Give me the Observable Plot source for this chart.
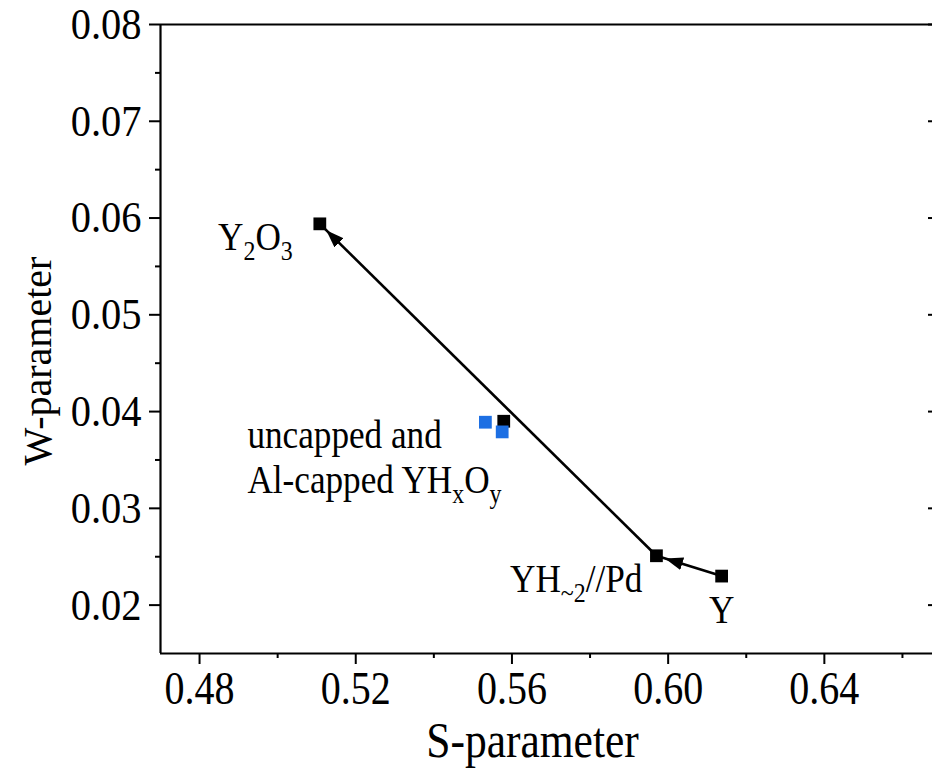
<!DOCTYPE html>
<html><head><meta charset="utf-8">
<script src="https://cdn.jsdelivr.net/npm/d3@7"></script>
<script src="https://cdn.jsdelivr.net/npm/@observablehq/plot@0.6"></script>
<style>body{margin:0;background:#fff;} svg{overflow:hidden;display:block}</style>
</head><body><div id="chart"></div>
<script>
// Black points: Y, YH~2//Pd, intermediate, Y2O3
const sParam = [0.6137, 0.5970, 0.5579, 0.5108];
const wParam = [0.0230, 0.0251, 0.0390, 0.0594];
// Blue points: uncapped and Al-capped YHxOy
const blueS = [0.5532, 0.5575];
const blueW = [0.0389, 0.0379];
// Arrows (indices into black points)
const arrowFrom = [0, 1];
const arrowTo = [1, 3];
// Ticks
const xMajorTicks = [0.48, 0.52, 0.56, 0.60, 0.64];
const xMinorTicks = [0.50, 0.54, 0.58, 0.62, 0.66];
const yMajorTicks = [0.02, 0.03, 0.04, 0.05, 0.06, 0.07, 0.08];
const yMinorTicks = [0.025, 0.035, 0.045, 0.055, 0.065, 0.075];
// Texts
const xTitle = "S-parameter";
const yTitle = "W-parameter";
const labelY = "Y";
const labelYH2 = "YH{~2}//Pd";
const labelY2O3 = "Y{2}O{3}";
const labelYHxOy = "uncapped and\nAl-capped YH{x}O{y}";

const FONT = "'Liberation Serif', 'Times New Roman', serif";
const blue = "#1d6fe3";
const idxBlack = sParam.map((_, i) => i);
const idxBlue = blueS.map((_, i) => i);
const idxArrow = arrowFrom.map((_, i) => i);

const plot = Plot.plot({
  width: 932,
  height: 768,
  marginLeft: 160,
  marginRight: 0,
  marginTop: 24,
  marginBottom: 115,
  style: {fontFamily: FONT, color: "#000", background: "#fff"},
  x: {domain: [0.47, 0.67], range: [160, 941]},
  y: {domain: [0.015, 0.08]},
  marks: [
    Plot.axisX({ticks: xMajorTicks, tickSize: 11, tickPadding: 7, tickFormat: d3.format(".2f"), fontSize: 46, strokeWidth: 2, label: null, className: "xticklab"}),
    Plot.axisX({ticks: xMinorTicks, tickSize: 5, tickFormat: () => "", strokeWidth: 2, label: null}),
    Plot.axisY({ticks: yMajorTicks, tickSize: 11, tickPadding: 8, tickFormat: d3.format(".2f"), fontSize: 45, strokeWidth: 2, label: null, className: "yticklab"}),
    Plot.axisY({ticks: yMinorTicks, tickSize: 5, tickFormat: () => "", strokeWidth: 2, label: null}),
    Plot.axisY({anchor: "right", ticks: yMajorTicks, tickSize: -5, tickFormat: () => "", strokeWidth: 2, label: null}),
    Plot.ruleX([0.47], {strokeWidth: 2.2}),
    Plot.ruleY([0.015, 0.08], {strokeWidth: 2.2}),
    Plot.text([xTitle], {frameAnchor: "bottom", textAnchor: "middle", lineAnchor: "bottom", dx: -14, dy: 103, fontSize: 50, text: d => d, className: "xtitle"}),
    Plot.text([yTitle], {frameAnchor: "left", textAnchor: "middle", dx: -122, dy: 22, rotate: -90, fontSize: 40, text: d => d}),
    Plot.dot(idxBlack, {x: i => sParam[i], y: i => wParam[i], symbol: "square", r: 7.2, fill: "#000"}),
    Plot.dot(idxBlue, {x: i => blueS[i], y: i => blueW[i], symbol: "square", r: 7.2, fill: blue}),
    Plot.link(idxArrow, {
      x1: i => sParam[arrowFrom[i]], y1: i => wParam[arrowFrom[i]],
      x2: i => sParam[arrowTo[i]], y2: i => wParam[arrowTo[i]],
      stroke: "#000", strokeWidth: 2.6, className: "arrowlinks"
    }),
    Plot.text([0], {x: i => sParam[i], y: i => wParam[i], text: () => labelY, dy: 34, fontSize: 40, className: "sublabel"}),
    Plot.text([1], {x: i => sParam[i], y: i => wParam[i], text: () => labelYH2, textAnchor: "end", dx: -14, dy: 23, fontSize: 40, className: "sublabel"}),
    Plot.text([3], {x: i => sParam[i], y: i => wParam[i], text: () => labelY2O3, textAnchor: "end", dx: -27, dy: 13, fontSize: 40, className: "sublabel y2o3"}),
    Plot.text([0], {x: i => blueS[i], y: i => blueW[i], text: () => labelYHxOy, textAnchor: "start", dx: -238, dy: 34, lineHeight: 1.13, fontSize: 40, className: "sublabel"})
  ]
});

const ns = "http://www.w3.org/2000/svg";
// Filled arrowheads
const defs = document.createElementNS(ns, "defs");
const marker = document.createElementNS(ns, "marker");
marker.setAttribute("id", "ahead");
marker.setAttribute("viewBox", "0 0 27 13");
marker.setAttribute("refX", "27");
marker.setAttribute("refY", "6.5");
marker.setAttribute("markerWidth", "27");
marker.setAttribute("markerHeight", "13");
marker.setAttribute("markerUnits", "userSpaceOnUse");
marker.setAttribute("orient", "auto");
const mp = document.createElementNS(ns, "path");
mp.setAttribute("d", "M0,0 L18,6.5 L0,13 Z");
mp.setAttribute("fill", "#000");
marker.appendChild(mp);
defs.appendChild(marker);
plot.insertBefore(defs, plot.firstChild);
plot.querySelectorAll(".arrowlinks path").forEach(p => p.setAttribute("marker-end", "url(#ahead)"));

// Subscripts
function applySubscripts(root, shift) {
  const walker = document.createTreeWalker(root, NodeFilter.SHOW_TEXT);
  const nodes = [];
  while (walker.nextNode()) if (walker.currentNode.nodeValue.includes("{")) nodes.push(walker.currentNode);
  for (const node of nodes) {
    const parts = node.nodeValue.split(/(\{[^}]*\})/).filter(s => s);
    const frag = document.createDocumentFragment();
    let shifted = false;
    for (const p of parts) {
      const t = document.createElementNS(ns, "tspan");
      if (p.startsWith("{")) {
        t.textContent = p.slice(1, -1);
        t.setAttribute("font-size", "68%");
        if (!shifted) t.setAttribute("dy", shift);
        shifted = true;
      } else {
        t.textContent = p;
        if (shifted) t.setAttribute("dy", -shift);
        shifted = false;
      }
      frag.appendChild(t);
    }
    node.parentNode.replaceChild(frag, node);
  }
}
plot.querySelectorAll(".sublabel").forEach(g => applySubscripts(g, 10));

// Narrow the glyphs horizontally, like the reference typesetting
function narrow(selector, sx) {
  plot.querySelectorAll(selector).forEach(g => {
    g.querySelectorAll("text").forEach(t => {
      const tr = t.getAttribute("transform");
      if (tr) t.setAttribute("transform", tr + ` scale(${sx},1)`);
      else {
        const x = +t.getAttribute("x") || 0, y = +t.getAttribute("y") || 0;
        t.setAttribute("transform", `translate(${x},${y}) scale(${sx},1) translate(${-x},${-y})`);
      }
    });
  });
}
narrow(".xticklab", 0.87);
narrow(".yticklab", 0.9);
narrow(".xtitle", 0.87);
narrow(".sublabel", 0.88);

document.getElementById("chart").appendChild(plot);
</script>
</body></html>
